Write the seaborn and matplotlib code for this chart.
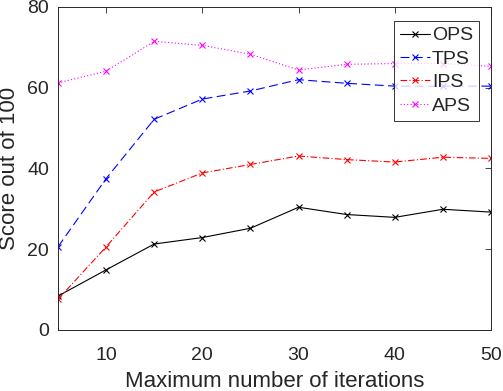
import pandas as pd
import matplotlib
matplotlib.use("Agg")
import matplotlib.pyplot as plt
import seaborn as sns

# data
iterations = [5, 10, 15, 20, 25, 30, 35, 40, 45, 50]
ops = [8.4, 14.9, 21.3, 22.9, 25.2, 30.4, 28.6, 27.9, 29.9, 29.2]
tps = [20.6, 37.5, 52.2, 57.2, 59.2, 62.0, 61.1, 60.4, 60.4, 60.4]
ips = [7.6, 20.6, 34.2, 38.9, 41.0, 43.1, 42.2, 41.6, 42.8, 42.5]
aps = [61.2, 64.1, 71.5, 70.5, 68.3, 64.4, 65.8, 66.0, 66.0, 65.3]

series = {"OPS": ops, "TPS": tps, "IPS": ips, "APS": aps}
colors = {"OPS": "black", "TPS": "blue", "IPS": "red", "APS": "magenta"}
styles = {"OPS": "-", "TPS": (0, (8, 4)), "IPS": (0, (6, 2, 1, 2)), "APS": (0, (1, 2))}

sns.set_style("white")
plt.rcParams["font.family"] = ["Liberation Sans", "DejaVu Sans"]

fig = plt.figure(figsize=(5.03, 3.91), dpi=100)
ax = fig.add_axes([58 / 503, 1 - 330 / 391, (491 - 58) / 503, (330 - 7) / 391])

for name, vals in series.items():
    df = pd.DataFrame({"x": iterations, "y": vals})
    sns.lineplot(data=df, x="x", y="y", ax=ax, color=colors[name], marker="x",
                 markersize=4.5, markeredgewidth=0.8, markeredgecolor=colors[name],
                 linewidth=0.8, label=name)
    ax.lines[-1].set_linestyle(styles[name])

ax.set_xlim(5, 50)
ax.set_ylim(0, 80)
ax.set_xticks([10, 20, 30, 40, 50])
ax.set_yticks([0, 20, 40, 60, 80])
ax.set_xlabel("Maximum number of iterations", fontsize=16, labelpad=5)
ax.set_ylabel("Score out of 100", fontsize=16, labelpad=5)
ax.tick_params(direction="in", top=True, right=True, length=4, width=0.6,
               labelsize=14, colors="#262626")
ax.tick_params(axis="x", pad=12)
ax.tick_params(axis="y", pad=6.5)
for s in ax.spines.values():
    s.set_color("#262626")
    s.set_linewidth(0.7)

leg = ax.legend(loc="upper right", bbox_to_anchor=(0.972, 0.957), fontsize=14,
                frameon=True, fancybox=False, handlelength=1.55, handletextpad=0.1,
                borderpad=0.3, labelspacing=0.3, borderaxespad=0)
leg.get_frame().set_edgecolor("black")
leg.get_frame().set_linewidth(0.7)

fig.savefig("out.png", dpi=100)
